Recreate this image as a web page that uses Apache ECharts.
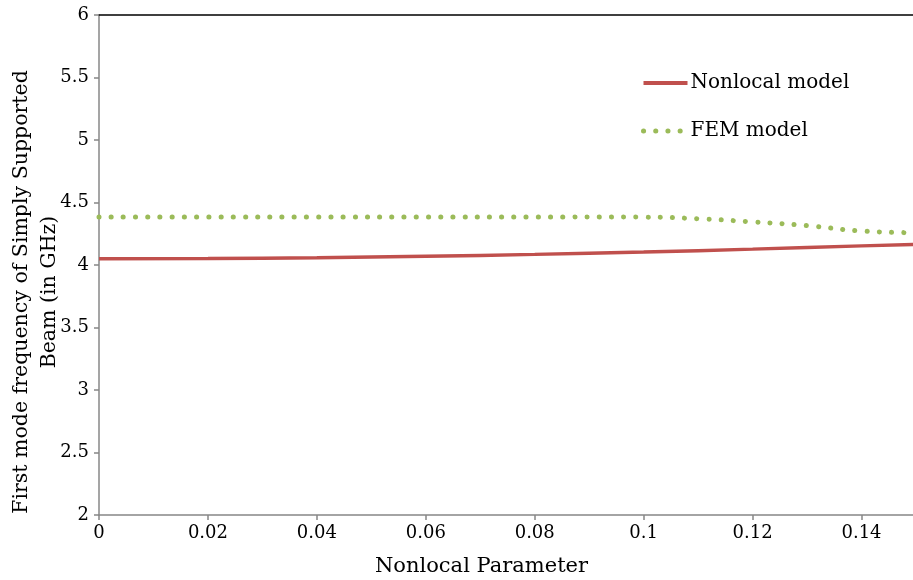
<!DOCTYPE html>
<html>
<head>
<meta charset="utf-8">
<script src="https://cdn.jsdelivr.net/npm/echarts@6/dist/echarts.min.js"></script>
<style>
  html, body { margin: 0; padding: 0; background: #fff; }
  #chart { width: 913px; height: 580px; }
</style>
</head>
<body>
<div id="chart"></div>
<script>
// Nonlocal parameter values and first-mode frequencies (GHz)
const nonlocalX = [0, 0.02, 0.04, 0.06, 0.08, 0.10, 0.12, 0.14, 0.15];
const nonlocalY = [4.050, 4.052, 4.058, 4.070, 4.085, 4.104, 4.127, 4.153, 4.165];

const femX = [0, 0.02, 0.04, 0.06, 0.08, 0.10, 0.11, 0.12, 0.13, 0.14, 0.15];
const femY = [4.385, 4.385, 4.385, 4.385, 4.385, 4.383, 4.370, 4.345, 4.315, 4.272, 4.258];

const seriesNames = ['Nonlocal model', 'FEM model'];
const xTitle = 'Nonlocal Parameter';
const yTitle = 'First mode frequency of Simply Supported\nBeam (in GHz)';

const FONT = 'DejaVu Serif';
const RED = '#c0504d';
const GREEN = '#9bbb59';
const DOTS = [0.1, 12.1];
const pairs = (xs, ys) => xs.map((x, i) => [x, ys[i]]);

const chart = echarts.init(document.getElementById('chart'), null, { renderer: 'canvas' });
chart.setOption({
  animation: false,
  backgroundColor: '#ffffff',
  grid: { left: 99, top: 15, width: 817, height: 500, containLabel: false, outerBoundsMode: 'none' },
  legend: {
    orient: 'vertical',
    left: 641,
    top: 73,
    padding: 0,
    itemWidth: 44,
    itemHeight: 14,
    itemGap: 28,
    textStyle: { fontFamily: FONT, fontSize: 20, lineHeight: 20, color: '#000', padding: [0, 0, 0, -2] },
    data: [
      { name: seriesNames[0], itemStyle: { opacity: 0 },
        lineStyle: { color: RED, width: 4, type: 'solid' } },
      { name: seriesNames[1], itemStyle: { opacity: 0 },
        lineStyle: { color: GREEN, width: 5, type: DOTS, cap: 'round' } }
    ]
  },
  xAxis: [{
    type: 'value',
    min: 0,
    max: 0.15,
    interval: 0.02,
    name: xTitle,
    nameLocation: 'middle',
    nameGap: 41,
    nameTextStyle: { fontFamily: FONT, fontSize: 21, color: '#000', padding: [0, 52, 0, 0] },
    axisLine: { show: true, lineStyle: { color: '#878787', width: 1.5 } },
    axisTick: { show: true, inside: false, length: 5, lineStyle: { color: '#878787', width: 1.5 } },
    axisLabel: { fontFamily: FONT, fontSize: 18, color: '#000', margin: 9, showMaxLabel: false },
    splitLine: { show: false }
  }, {
    type: 'value',
    position: 'top',
    min: 0,
    max: 0.15,
    axisLine: { show: true, lineStyle: { color: '#000', width: 1.5 } },
    axisTick: { show: false },
    axisLabel: { show: false },
    splitLine: { show: false }
  }],
  yAxis: {
    type: 'value',
    min: 2,
    max: 6,
    interval: 0.5,
    name: yTitle,
    nameLocation: 'middle',
    nameGap: 35,
    nameMoveOverlap: false,
    nameRotate: 90,
    nameTextStyle: { fontFamily: FONT, fontSize: 20.5, color: '#000', lineHeight: 28, padding: [0, 54, 0, 0] },
    axisLine: { show: true, lineStyle: { color: '#878787', width: 1.5 } },
    axisTick: { show: true, inside: false, length: 5, lineStyle: { color: '#878787', width: 1.5 } },
    axisLabel: { fontFamily: FONT, fontSize: 18, color: '#000', margin: 10 },
    splitLine: { show: false }
  },
  series: [{
    name: seriesNames[0],
    type: 'line',
    smooth: true,
    symbol: 'none',
    data: pairs(nonlocalX, nonlocalY),
    itemStyle: { color: RED },
    lineStyle: { color: RED, width: 3.5 }
  }, {
    name: seriesNames[1],
    type: 'line',
    smooth: true,
    symbol: 'none',
    data: pairs(femX, femY),
    itemStyle: { color: GREEN },
    lineStyle: { color: GREEN, width: 5, type: DOTS, cap: 'round' }
  }]
});
</script>
</body>
</html>
